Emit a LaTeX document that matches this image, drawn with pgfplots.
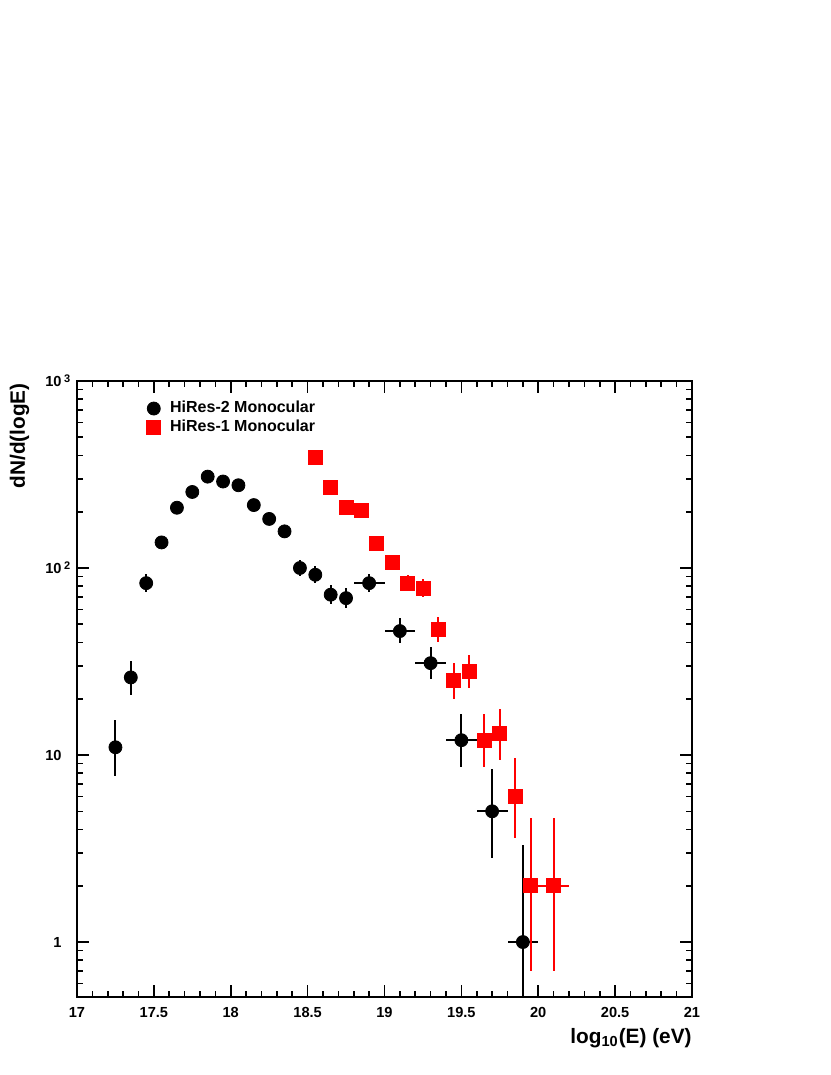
\documentclass[border=0pt]{standalone}
\usepackage{fontspec}
\setmainfont{Liberation Sans}
\usepackage{pgfplots}
\usepackage{pgfplotstable}
\pgfplotsset{compat=1.18}
\definecolor{hiresred}{RGB}{255,0,0}

% x  y  x-error  y-error up  y-error down
\pgfplotstableread{
x     y    ex   ep   em
17.25 11   0    4.3  3.3
17.35 26   0    6    5
17.45 83   0    10   9
17.55 137  0    12   11
17.65 210  0    14   13
17.75 255  0    15   14
17.85 308  0    17   16
17.95 290  0    17   16
18.05 277  0    16   15
18.15 217  0    15   14
18.25 183  0    14   13
18.35 157  0    13   12
18.45 100  0    10   9
18.55 92   0    10   9
18.65 72   0    9    8
18.75 69   0    9    8
18.9  83   0.1  10   9
19.1  46   0.1  7.8  6.5
19.3  31   0.1  6.6  5.4
19.5  12   0.1  4.6  3.4
19.7  5    0.1  3.4  2.2
19.9  1    0.1  2.3  0.999
}\hirestwo

\pgfplotstableread{
x     y    ex   ep   em
18.55 390  0    20   19
18.65 270  0    17   16
18.75 210  0    15   14
18.85 202  0    14   14
18.95 136  0    12   11
19.05 107  0    11   10
19.15 83   0    9    8
19.25 78   0    9    8
19.35 47   0    7.7  7
19.45 25   0    6    5
19.55 28   0    6.4  5.2
19.65 12   0    4.6  3.4
19.75 13   0    4.6  3.6
19.85 6    0    3.6  2.4
19.95 2    0    2.6  1.3
20.1  2    0.1  2.6  1.3
}\hiresone

\begin{document}
\begin{tikzpicture}
\useasboundingbox (-38.5pt,-39pt) rectangle (376.5pt,498.5pt);
\begin{axis}[
  at={(0pt,0pt)}, anchor=south west,
  scale only axis, width=307.5pt, height=308pt,
  xmin=17, xmax=21,
  ymode=log, ymin=0.5083, ymax=1000,
  axis line style={line width=0.9pt},
  every tick/.style={black, line width=0.8pt},
  major tick length=6pt, minor tick length=3pt,
  tick align=inside,
  xtick pos=both, ytick pos=both,
  xtick={17,17.5,18,18.5,19,19.5,20,20.5,21},
  xticklabels={17,17.5,18,18.5,19,19.5,20,20.5,21},
  minor x tick num=4,
  ytick={1,10,100,1000},
  yticklabels={1,10,10\rlap{\raisebox{0.5ex}{\,\fontsize{5.5}{6}\selectfont 2}},10\rlap{\raisebox{0.5ex}{\,\fontsize{5.5}{6}\selectfont 3}}},
  minor ytick={0.6,0.7,0.8,0.9,2,3,4,5,6,7,8,9,20,30,40,50,60,70,80,90,200,300,400,500,600,700,800,900},
  tick label style={font=\bfseries\fontsize{7.3}{8}\selectfont, inner sep=0pt},
  xticklabel style={anchor=north, yshift=-5pt},
  yticklabel style={anchor=east, xshift=-7.5pt},
  xlabel={log\textsubscript{10}(E) (eV)},
  ylabel={dN/d(logE)},
  label style={font=\bfseries\fontsize{10.4}{12}\selectfont, inner sep=0pt},
  xlabel style={at={(rel axis cs:1,0)}, anchor=north east, yshift=-15.5pt},
  ylabel style={at={(rel axis cs:-0.0846,0.997)}, anchor=base east},
  legend image code/.code={\path (0pt,0pt) (14pt,0pt); \draw[#1] plot coordinates {(7pt,0pt)};},
  legend style={draw=none, fill=none, inner sep=0pt, at={(rel axis cs:0.1008,0.971)}, anchor=north west,
    font=\bfseries\fontsize{8}{9}\selectfont, row sep=0pt, nodes={inner sep=1pt}},
  legend cell align=left,
  error bars/error bar style={line width=1pt},
  error bars/error mark=none,
]
\addplot[black, only marks, mark=*, mark size=3.25pt,
  error bars/.cd, x dir=both, x explicit, y dir=both, y explicit]
  table[x=x, y=y, x error=ex, y error plus=ep, y error minus=em] {\hirestwo};
\addlegendentry{HiRes-2 Monocular}
\addplot[hiresred, only marks, mark=square*, mark size=3.5pt,
  error bars/.cd, x dir=both, x explicit, y dir=both, y explicit]
  table[x=x, y=y, x error=ex, y error plus=ep, y error minus=em] {\hiresone};
\addlegendentry{HiRes-1 Monocular}
\end{axis}
\end{tikzpicture}
\end{document}
